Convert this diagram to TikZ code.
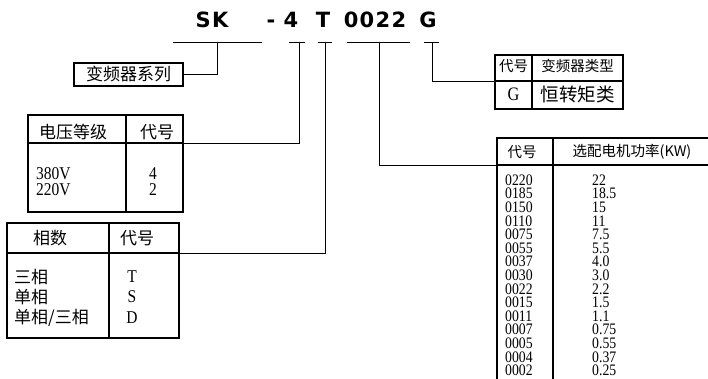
\documentclass[tikz,border=0pt]{standalone}
\usepackage{fontspec}
\setmainfont{Liberation Serif}
\newfontfamily\cjk{Noto Sans CJK SC}
\newfontfamily\titlefont{DejaVu Sans}[LetterSpace=6]
\newfontfamily\digits{Liberation Serif}[FakeStretch=0.86]

\begin{document}
\begin{tikzpicture}[x=1pt, y=-1pt,
  frame/.style={draw=black, line width=1.1pt},
  link/.style={draw=black, line width=0.9pt},
  cn/.style={font=\fontsize{17}{17}\selectfont\cjk, inner sep=0pt},
  cnsm/.style={font=\fontsize{14.5}{15}\selectfont\cjk, inner sep=0pt},
  num/.style={font=\fontsize{18}{18}\selectfont\digits, inner sep=0pt},
  code/.style={font=\fontsize{16}{16}\selectfont\digits, inner sep=0pt, anchor=west,
    text height=10.5pt, text depth=0pt},
  ttl/.style={font=\fontsize{21}{21}\selectfont\titlefont\bfseries, inner sep=0pt, anchor=base}]
  \useasboundingbox (0,0) rectangle (708,379);

  % model number
  \node[ttl] (t-sk) at (212,28) {SK};
  \node[ttl] (t-dash) at (271,28) {-};
  \node[ttl] (t-volt) at (291,28) {4};
  \node[ttl] (t-phase) at (323,28) {T};
  \node[ttl] (t-power) at (375,28) {0022};
  \node[ttl] (t-type) at (428,28) {G};
  \draw[link] (173,42) -- (262,42);
  \draw[link] (289,42) -- (305,42);
  \draw[link] (318,42) -- (332,42);
  \draw[link] (347,42) -- (410,42);
  \draw[link] (424,42) -- (439,42);
  \coordinate (b-sk) at (217,42);
  \coordinate (b-volt) at (299,42);
  \coordinate (b-phase) at (325,42);
  \coordinate (b-power) at (379,42);
  \coordinate (b-type) at (432,42);

  % series
  \node[cn, frame, minimum width=109, minimum height=23] (series) at (128.5,74.5) {变频器系列};

  % voltage
  \draw[frame] (28,115) rectangle (183,212);
  \draw[frame] (28,143) -- (183,143);
  \draw[frame] (126,115) -- (126,212);
  \coordinate (volt-in) at (183,143);
  \node[cn] (volt-h1) at (73,132) {电压等级};
  \node[cn] (volt-h2) at (157,132) {代号};
  \node[num, anchor=west] (volt-380) at (36,174) {380V};
  \node[num, anchor=west] (volt-220) at (36,190) {220V};
  \node[num] (volt-c4) at (153,174) {4};
  \node[num] (volt-c2) at (153,190) {2};

  % phase
  \draw[frame] (7,223) rectangle (179,338);
  \draw[frame] (7,253) -- (179,253);
  \draw[frame] (109,223) -- (109,338);
  \coordinate (phase-in) at (179,253);
  \node[cn] (phase-h1) at (50,238) {相数};
  \node[cn] (phase-h2) at (137,238) {代号};
  \node[cn, anchor=west] (phase-3) at (14,277) {三相};
  \node[cn, anchor=west] (phase-1) at (14,297) {单相};
  \node[cn, anchor=west] (phase-13) at (14,318) {单相/三相};
  \node[num] (phase-t) at (132,277) {T};
  \node[num] (phase-s) at (132,297) {S};
  \node[num] (phase-d) at (132,318) {D};

  % type
  \draw[frame] (495,55) rectangle (623,109);
  \draw[frame] (495,81) -- (623,81);
  \draw[frame] (532,55) -- (532,109);
  \coordinate (type-in) at (495,81);
  \node[cnsm] (type-h1) at (513.5,66) {代号};
  \node[cnsm] (type-h2) at (577.5,66) {变频器类型};
  \node[num, font=\fontsize{19}{19}\selectfont\digits] (type-g) at (513.5,94) {G};
  \node[cn, font=\fontsize{18.5}{18}\selectfont\cjk] (type-ct) at (577.5,94) {恒转矩类};

  % power
  \draw[frame] (708,138) -- (497,138) -- (497,379);
  \draw[frame] (553,138) -- (553,379);
  \draw[frame] (497,165) -- (708,165);
  \coordinate (power-in) at (497,165);
  \node[cnsm] (power-h1) at (522,152) {代号};
  \node[cnsm] (power-h2) at (632,152) {选配电机功率(KW)};
  \foreach \c/\v [count=\i from 0] in {0220/22,0185/18.5,0150/15,0110/11,0075/7.5,0055/5.5,0037/4.0,0030/3.0,0022/2.2,0015/1.5,0011/1.1,0007/0.75,0005/0.55,0004/0.37,0002/0.25} {
    \node[code] (pc-\i) at (505,180+13.6*\i) {\c};
    \node[code] (pv-\i) at (592,180+13.6*\i) {\v};
  }

  % links
  \draw[link] (b-sk) |- (series.east);
  \draw[link] (b-volt) |- (volt-in);
  \draw[link] (b-phase) |- (phase-in);
  \draw[link] (b-power) |- (power-in);
  \draw[link] (b-type) |- (type-in);
\end{tikzpicture}
\end{document}
